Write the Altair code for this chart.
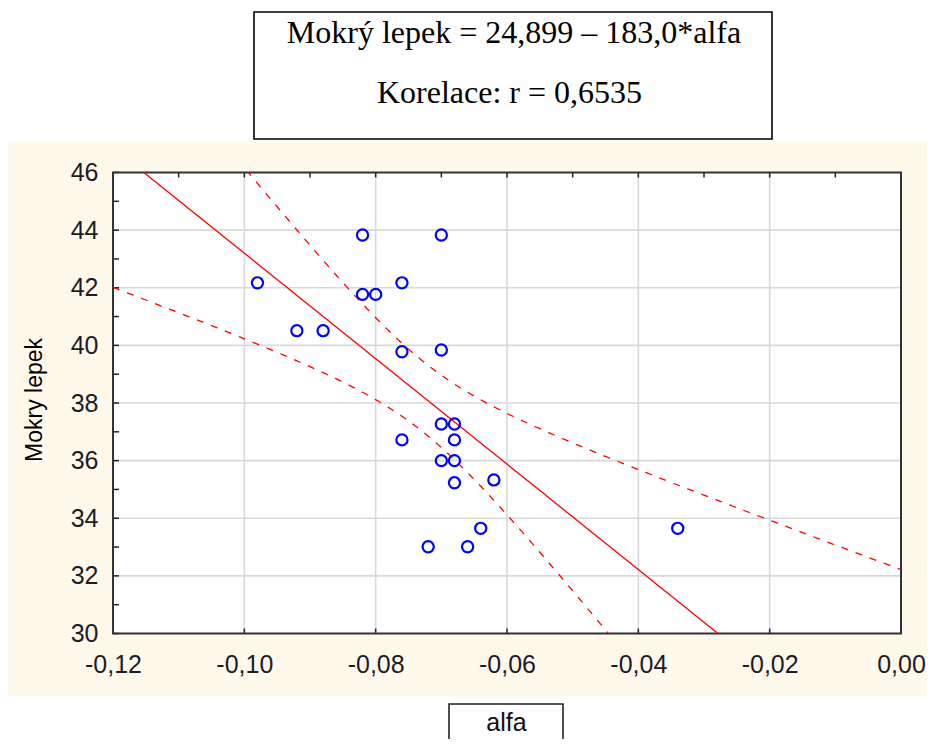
import altair as alt
import numpy as np
import pandas as pd

# ---- data ----
alfa = [-0.082, -0.070, -0.098, -0.076, -0.082, -0.080, -0.092, -0.088, -0.076, -0.070, -0.070,
        -0.068, -0.076, -0.068, -0.070, -0.068, -0.068, -0.062, -0.064, -0.072, -0.066, -0.034]
mokry_lepek = [43.83, 43.83, 42.17, 42.17, 41.77, 41.77, 40.51, 40.51, 39.78, 39.84, 37.27,
               37.27, 36.72, 36.72, 36.00, 36.00, 35.23, 35.33, 33.65, 33.01, 33.01, 33.65]

intercept = 24.899
slope = -183.0
t_95 = 2.086  # Student t, 95 %, n-2 = 20 df

x_ticks = [-0.12, -0.10, -0.08, -0.06, -0.04, -0.02, 0.00]
x_minor_top = [-0.11, -0.09, -0.07, -0.05, -0.03, -0.01]
y_ticks = [30, 32, 34, 36, 38, 40, 42, 44, 46]
y_minor = [31, 33, 35, 37, 39, 41, 43, 45]

title_line1 = "Mokrý lepek = 24,899 – 183,0*alfa"
title_line2 = "Korelace: r = 0,6535"
x_title = "alfa"
y_title = "Mokry lepek"

# ---- derived regression line and 95% confidence band ----
xa = np.array(alfa)
ya = np.array(mokry_lepek)
n = len(xa)
xbar = xa.mean()
sxx = ((xa - xbar) ** 2).sum()
resid = ya - (intercept + slope * xa)
s = np.sqrt((resid ** 2).sum() / (n - 2))
xg = np.linspace(-0.12, 0.0, 241)
fit = intercept + slope * xg
half = t_95 * s * np.sqrt(1.0 / n + (xg - xbar) ** 2 / sxx)
lines = pd.DataFrame({"x": xg, "fit": fit, "lo": fit - half, "hi": fit + half})
pts = pd.DataFrame({"alfa": alfa, "ml": mokry_lepek})

W, H = 788, 461
XDOM = [-0.12, 0.0]
YDOM = [30, 46]
FONT = "Liberation Sans"
LABEL_COLOR = "#1c1c28"

x_axis = alt.Axis(values=x_ticks, title=None, grid=False, domain=False, ticks=False, tickSize=0,
                  labelExpr="replace(replace(format(datum.value, '.2f'), '.', ','), '\u2212', '-')",
                  labelFont=FONT, labelFontSize=25, labelColor=LABEL_COLOR, labelPadding=39,
                  labelBaseline="alphabetic", labelFlush=False, labelOverlap=False, zindex=1)
y_axis = alt.Axis(values=y_ticks, title=None, grid=False, domain=False, ticks=False, tickSize=0,
                  labelFont=FONT, labelFontSize=25, labelColor=LABEL_COLOR, labelPadding=15,
                  labelBaseline="middle", labelFlush=False, labelOverlap=False, zindex=1)


def X(field):
    return alt.X(f"{field}:Q", scale=alt.Scale(domain=XDOM, nice=False, zero=False), axis=x_axis)


def Y(field):
    return alt.Y(f"{field}:Q", scale=alt.Scale(domain=YDOM, nice=False, zero=False), axis=y_axis)


one = pd.DataFrame({"k": [0]})

beige = alt.Chart(one).mark_rect(fill="#FFF9EC").encode(
    x=alt.value(-105), x2=alt.value(814), y=alt.value(-31.5), y2=alt.value(523.5))
white = alt.Chart(one).mark_rect(fill="white").encode(
    x=alt.value(0), x2=alt.value(W), y=alt.value(0), y2=alt.value(H))

xg_df = pd.DataFrame({"v": x_ticks[1:-1]})
yg_df = pd.DataFrame({"v": y_ticks[1:-1]})
grid_x = alt.Chart(xg_df).mark_rule(color="#D9D9D9", strokeWidth=1.6).encode(
    x=X("v"), y=alt.value(0), y2=alt.value(H))
grid_y = alt.Chart(yg_df).mark_rule(color="#D9D9D9", strokeWidth=1.6).encode(
    y=Y("v"), x=alt.value(0), x2=alt.value(W))

tick_col = "#222222"
xt_df = pd.DataFrame({"v": x_ticks})
xtop_df = pd.DataFrame({"v": x_ticks + x_minor_top})
yt_df = pd.DataFrame({"v": y_ticks + y_minor})
ticks_bottom = alt.Chart(xt_df).mark_rule(color=tick_col, strokeWidth=1.5).encode(
    x=X("v"), y=alt.value(H), y2=alt.value(H - 5))
ticks_top = alt.Chart(xtop_df).mark_rule(color=tick_col, strokeWidth=1.5).encode(
    x=X("v"), y=alt.value(0), y2=alt.value(5))
ticks_left = alt.Chart(yt_df).mark_rule(color=tick_col, strokeWidth=1.5).encode(
    y=Y("v"), x=alt.value(0), x2=alt.value(6))

border = alt.Chart(one).mark_rect(fillOpacity=0, stroke="#333333", strokeWidth=2).encode(
    x=alt.value(0), x2=alt.value(W), y=alt.value(0), y2=alt.value(H))

fit_line = alt.Chart(lines).mark_line(color="#FF0000", strokeWidth=1.3, clip=True).encode(
    x=X("x"), y=Y("fit"))
lo_line = alt.Chart(lines).mark_line(color="#FF0000", strokeWidth=1.3, strokeDash=[7, 8], clip=True).encode(
    x=X("x"), y=Y("lo"))
hi_line = alt.Chart(lines).mark_line(color="#FF0000", strokeWidth=1.3, strokeDash=[7, 8], clip=True).encode(
    x=X("x"), y=Y("hi"))

points = alt.Chart(pts).mark_point(shape="circle", filled=False, size=125, strokeWidth=2.2,
                                   color="#0000FF", opacity=1).encode(x=X("alfa"), y=Y("ml"))

title_box = alt.Chart(one).mark_rect(fillOpacity=0, stroke="black", strokeWidth=1.6).encode(
    x=alt.value(141), x2=alt.value(659), y=alt.value(-160.5), y2=alt.value(-33.5))
t1 = alt.Chart(one).mark_text(font="Liberation Serif", fontSize=32, color="black",
                              align="center", baseline="alphabetic").encode(
    x=alt.value(401), y=alt.value(-129.2), text=alt.value(title_line1))
t2 = alt.Chart(one).mark_text(font="Liberation Serif", fontSize=32, color="black",
                              align="center", baseline="alphabetic").encode(
    x=alt.value(396.5), y=alt.value(-69.2), text=alt.value(title_line2))

ybox_title = alt.Chart(one).mark_text(font=FONT, fontSize=23, color="black", angle=270,
                                      align="center", baseline="alphabetic").encode(
    x=alt.value(-71), y=alt.value(227.5), text=alt.value(y_title))

alfa_box = alt.Chart(one).mark_rect(fillOpacity=0, stroke="#222222", strokeWidth=1.6).encode(
    x=alt.value(336), x2=alt.value(450), y=alt.value(531.5), y2=alt.value(600))
alfa_text = alt.Chart(one).mark_text(font=FONT, fontSize=25, color="#111111",
                                     align="center", baseline="alphabetic").encode(
    x=alt.value(393.5), y=alt.value(558), text=alt.value(x_title))

chart = alt.layer(
    beige, white, grid_x, grid_y, ticks_bottom, ticks_top, ticks_left, border,
    fit_line, lo_line, hi_line, points, title_box, t1, t2, ybox_title, alfa_box, alfa_text
).properties(
    width=W, height=H, autosize="none",
    padding={"left": 105, "top": 164.5, "right": 26, "bottom": 105.5},
    background="white"
).configure_view(stroke=None, fill=None)

chart.save("out.html", embed_options={"renderer": "svg", "actions": False})
